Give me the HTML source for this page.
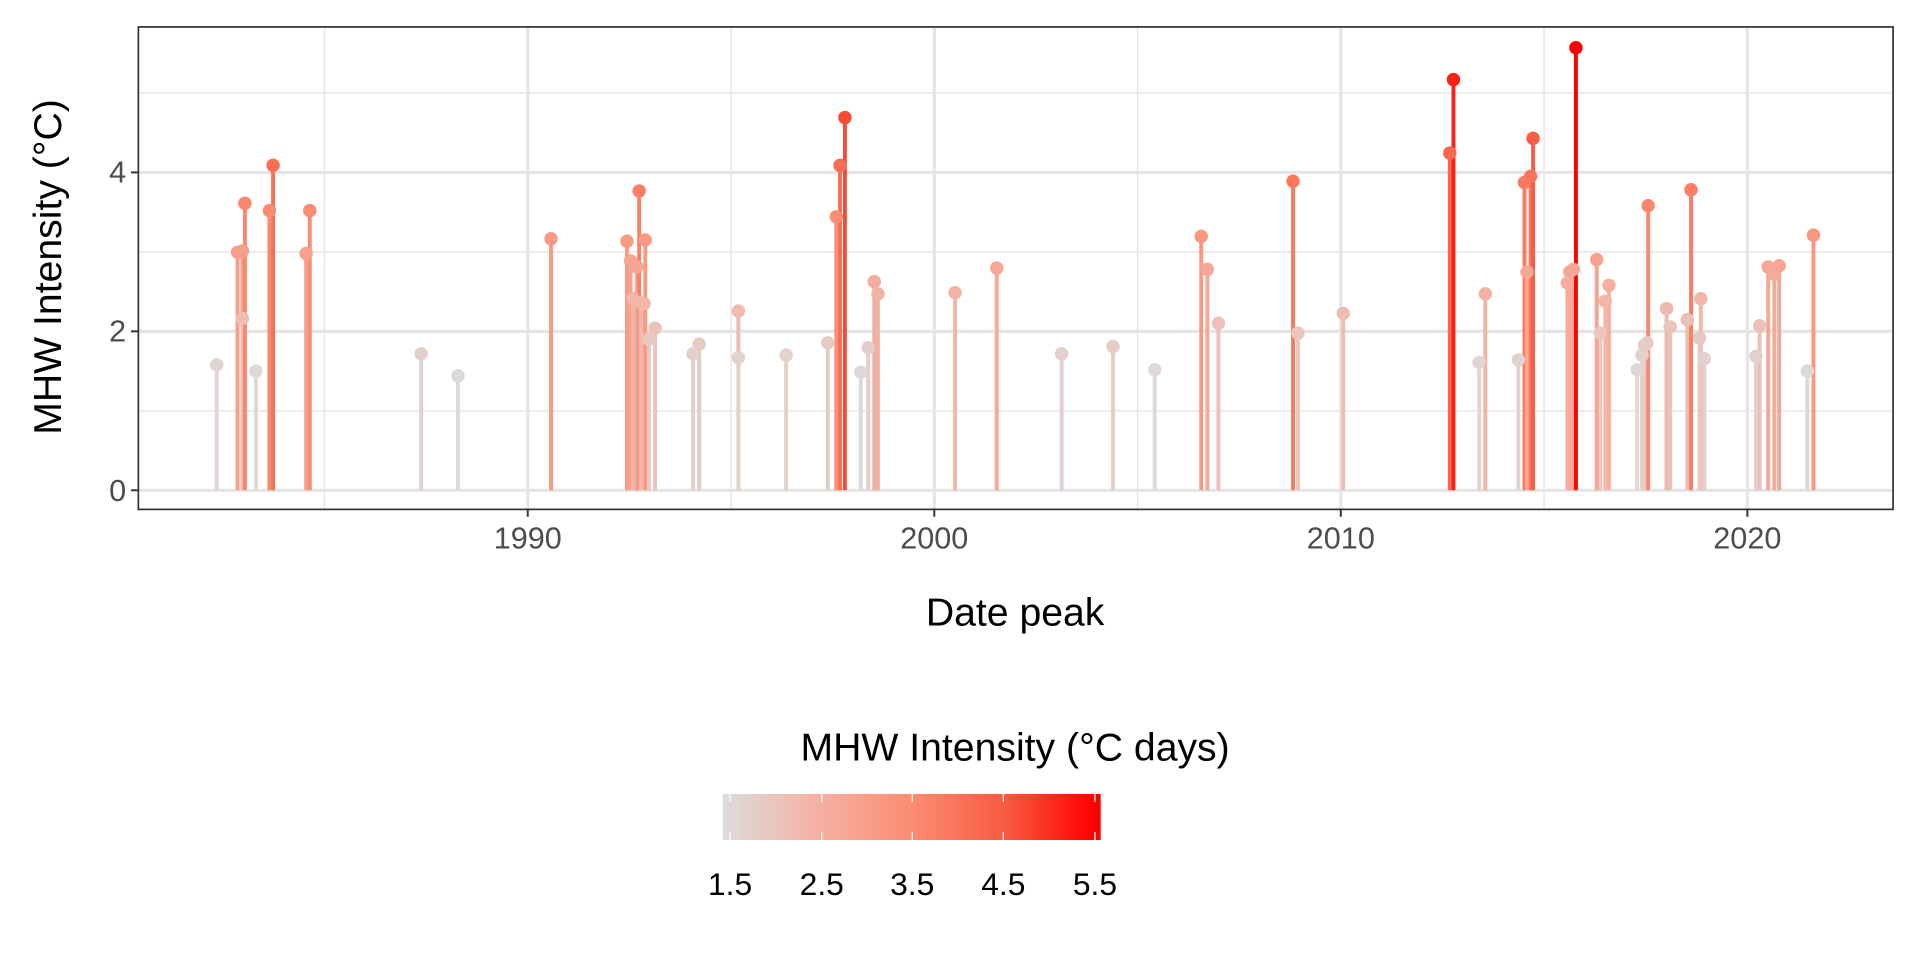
<!DOCTYPE html>
<html><head><meta charset="utf-8"><style>
html,body{margin:0;padding:0;background:#fff;}
svg{display:block;}
text{font-family:"Liberation Sans",Arial,sans-serif;}
</style></head><body>
<svg id="s" width="1920" height="960" viewBox="0 0 1568 784" xmlns="http://www.w3.org/2000/svg">
<defs>
<linearGradient id="g" x1="0" x2="1" y1="0" y2="0">
<stop offset="0" stop-color="#dcdcdc"/>
<stop offset="0.25" stop-color="#f4b2a3"/>
<stop offset="0.5" stop-color="#fb8c72"/>
<stop offset="0.75" stop-color="#f85a40"/>
<stop offset="0.98" stop-color="#ff0000"/>
<stop offset="1" stop-color="#ff0000"/>
</linearGradient>
</defs>
<rect x="0" y="0" width="1568" height="784" fill="#fff"/>
<g id="grid" stroke="#e5e5e5"></g>
<g id="data"></g>
<rect x="113" y="22" width="1433" height="394" fill="none" stroke="#333" stroke-width="1.4"/>
<g stroke="#333" stroke-width="1.6">
<line x1="107" x2="113" y1="400.4" y2="400.4"/>
<line x1="107" x2="113" y1="270.6" y2="270.6"/>
<line x1="107" x2="113" y1="140.8" y2="140.8"/>
<line x1="431" x2="431" y1="416" y2="422"/>
<line x1="763" x2="763" y1="416" y2="422"/>
<line x1="1095" x2="1095" y1="416" y2="422"/>
<line x1="1427" x2="1427" y1="416" y2="422"/>
</g>
<g fill="#4d4d4d" font-size="25" text-anchor="end">
<text x="103" y="409">0</text>
<text x="103" y="279">2</text>
<text x="103" y="149">4</text>
</g>
<g fill="#4d4d4d" font-size="25" text-anchor="middle">
<text x="431" y="448">1990</text>
<text x="763" y="448">2000</text>
<text x="1095" y="448">2010</text>
<text x="1427" y="448">2020</text>
</g>
<text x="829" y="511" font-size="32" text-anchor="middle" fill="#000">Date peak</text>
<text transform="translate(50,218) rotate(-90)" font-size="32" text-anchor="middle" fill="#000">MHW Intensity (°C)</text>
<text x="829" y="621" font-size="32" text-anchor="middle" fill="#000">MHW Intensity (°C days)</text>
<rect x="590.2" y="648.4" width="308.7" height="37.6" fill="url(#g)"/>
<g stroke="#fff" stroke-width="1">
<line x1="596.2" x2="596.2" y1="648.4" y2="655"/><line x1="596.2" x2="596.2" y1="679.4" y2="686"/>
<line x1="671.1" x2="671.1" y1="648.4" y2="655"/><line x1="671.1" x2="671.1" y1="679.4" y2="686"/>
<line x1="745.0" x2="745.0" y1="648.4" y2="655"/><line x1="745.0" x2="745.0" y1="679.4" y2="686"/>
<line x1="819.4" x2="819.4" y1="648.4" y2="655"/><line x1="819.4" x2="819.4" y1="679.4" y2="686"/>
<line x1="894.2" x2="894.2" y1="648.4" y2="655"/><line x1="894.2" x2="894.2" y1="679.4" y2="686"/>
</g>
<g font-size="26" text-anchor="middle" fill="#000">
<text x="596.2" y="731">1.5</text>
<text x="671.1" y="731">2.5</text>
<text x="745.0" y="731">3.5</text>
<text x="819.4" y="731">4.5</text>
<text x="894.2" y="731">5.5</text>
</g>
</svg>
<script>
(function(){
var NS="http://www.w3.org/2000/svg";
var grid=document.getElementById('grid');
function ln(p,a){var e=document.createElementNS(NS,'line');for(var k in a)e.setAttribute(k,a[k]);p.appendChild(e);return e;}
var y0=400.4,u=64.9;
[1,3,5].forEach(function(v){ln(grid,{x1:113,x2:1546,y1:y0-v*u,y2:y0-v*u,'stroke-width':1.2});});
[265,597,929,1261].forEach(function(x){ln(grid,{x1:x,x2:x,y1:22,y2:416,'stroke-width':1.2});});
[0,2,4].forEach(function(v){ln(grid,{x1:113,x2:1546,y1:y0-v*u,y2:y0-v*u,'stroke-width':2.6});});
[431,763,1095,1427].forEach(function(x){ln(grid,{x1:x,x2:x,y1:22,y2:416,'stroke-width':2.6});});
var pts=[[177,298],[194,206],[198,205],[198,260],[200,166],[209,303],[220,172],[223,135],[250,207],[253,172],
[344,289],[374,307],[450,195],[512,197],[515,213],[517,244],[520,218],[522,156],[523,247],[526,248],[527,196],[530,277],[535,268],
[566,289],[571,281],[603,254],[603,292],[642,290],[676,280],[683,177],[686,135],[690,96],[703,304],[709,284],[714,230],[717,240],
[780,239],[814,219],[867,289],[909,283],[943,302],[981,193],[986,220],[995,264],[1056,148],[1060,272],[1097,256],
[1184,125],[1187,65],[1208,296],[1213,240],[1240,294],[1245,149],[1247,222],[1250,144],[1252,113],
[1280,231],[1282,222],[1285,220],[1287,39],[1304,212],[1307,272],[1311,246],[1314,233],
[1337,302],[1341,290],[1343,282],[1345,280],[1346,168],[1361,252],[1364,267],[1378,261],[1381,155],
[1389,244],[1388,276],[1392,293],[1434,291],[1437,266],[1444,218],[1449,224],[1453,217],[1476,303],[1481,192]];
var stops=[[1.4,[220,220,220]],[2.5,[244,178,163]],[3.5,[251,140,114]],[4.5,[248,90,64]],[5.55,[255,0,0]]];
function col(v){if(v<=stops[0][0])return 'rgb('+stops[0][1]+')';
for(var i=1;i<stops.length;i++){if(v<=stops[i][0]){var a=stops[i-1],b=stops[i],t=(v-a[0])/(b[0]-a[0]);
return 'rgb('+[0,1,2].map(function(j){return Math.round(a[1][j]+(b[1][j]-a[1][j])*t);}).join(',')+')';}}
return 'rgb(255,0,0)';}
var d=document.getElementById('data');
pts.forEach(function(p){var v=(y0-p[1])/u;ln(d,{x1:p[0],x2:p[0],y1:y0,y2:p[1],stroke:col(v),'stroke-width':3.2});});
pts.forEach(function(p){var v=(y0-p[1])/u;var c=document.createElementNS(NS,'circle');
c.setAttribute('cx',p[0]);c.setAttribute('cy',p[1]);c.setAttribute('r',5.5);c.setAttribute('fill',col(v));d.appendChild(c);});
})();
</script>
</body></html>
